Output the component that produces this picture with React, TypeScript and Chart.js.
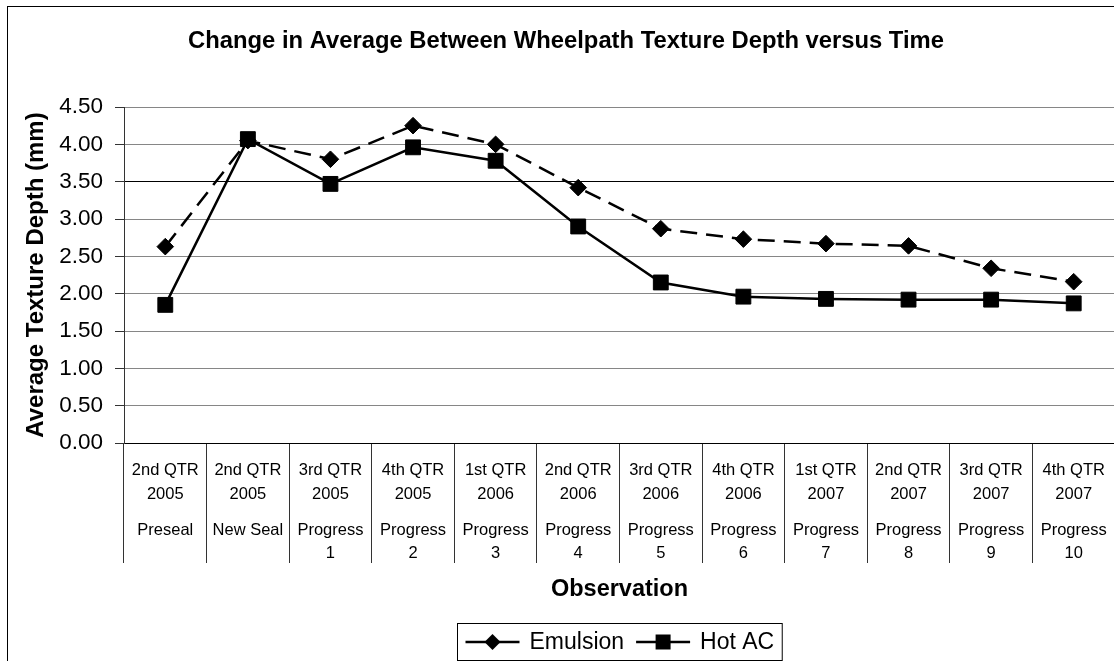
import React, { useEffect, useRef } from 'react';
import { Chart, registerables } from 'chart.js';

Chart.register(...registerables);

const FONT = '"Liberation Sans", Arial, sans-serif';

// ---- Data ----
const quarterLabels = ['2nd QTR', '2nd QTR', '3rd QTR', '4th QTR', '1st QTR', '2nd QTR', '3rd QTR', '4th QTR', '1st QTR', '2nd QTR', '3rd QTR', '4th QTR'];
const yearLabels = ['2005', '2005', '2005', '2005', '2006', '2006', '2006', '2006', '2007', '2007', '2007', '2007'];
const stageLabels = ['Preseal', 'New Seal', 'Progress', 'Progress', 'Progress', 'Progress', 'Progress', 'Progress', 'Progress', 'Progress', 'Progress', 'Progress'];
const stageNumbers = ['', '', '1', '2', '3', '4', '5', '6', '7', '8', '9', '10'];

const emulsionValues = [2.63, 4.05, 3.80, 4.25, 4.00, 3.42, 2.87, 2.73, 2.67, 2.64, 2.34, 2.16];
const hotACValues = [1.85, 4.07, 3.47, 3.96, 3.78, 2.90, 2.15, 1.96, 1.93, 1.92, 1.92, 1.87];

const yMin = 0;
const yMax = 4.5;
const yStep = 0.5;

const chartTitle = 'Change in Average Between Wheelpath Texture Depth versus Time';
const yAxisTitle = 'Average Texture Depth (mm)';
const xAxisTitle = 'Observation';

const CANVAS_W = 1132;
const CANVAS_H = 661;

const backgroundPlugin = {
  id: 'bgBorder',
  beforeDraw(chart: any) {
    const ctx = chart.ctx;
    ctx.save();
    ctx.fillStyle = '#ffffff';
    ctx.fillRect(0, 0, chart.width, chart.height);
    ctx.strokeStyle = '#000000';
    ctx.lineWidth = 1;
    ctx.strokeRect(7.5, 6.5, 1118, 720);
    ctx.restore();
  },
};

const titlePlugin = {
  id: 'centeredTitle',
  afterDraw(chart: any) {
    const ctx = chart.ctx;
    ctx.save();
    ctx.font = `bold 23.8px ${FONT}`;
    ctx.fillStyle = '#000000';
    ctx.textAlign = 'center';
    ctx.textBaseline = 'middle';
    ctx.fillText(chartTitle, chart.width / 2, 41);
    ctx.restore();
  },
};

const categoryLabelPlugin = {
  id: 'categoryLabels',
  afterDraw(chart: any) {
    const xs = chart.scales.x;
    const ctx = chart.ctx;
    const rows = [quarterLabels, yearLabels, stageLabels, stageNumbers];
    const offsets = [27, 51, 87, 110];
    ctx.save();
    ctx.font = `16.5px ${FONT}`;
    ctx.fillStyle = '#000000';
    ctx.textAlign = 'center';
    ctx.textBaseline = 'middle';
    for (let i = 0; i < quarterLabels.length; i++) {
      const px = xs.getPixelForValue(i);
      rows.forEach((row, k) => {
        if (row[i]) ctx.fillText(row[i], px, xs.top + offsets[k]);
      });
    }
    ctx.restore();
  },
};

function drawMarker(ctx: CanvasRenderingContext2D, style: string, x: number, y: number) {
  ctx.beginPath();
  if (style === 'rectRot') {
    const r = 8;
    ctx.moveTo(x, y - r);
    ctx.lineTo(x + r, y);
    ctx.lineTo(x, y + r);
    ctx.lineTo(x - r, y);
    ctx.closePath();
  } else {
    const h = 7.5;
    ctx.rect(x - h, y - h, 2 * h, 2 * h);
  }
  ctx.fill();
}

const legendPlugin = {
  id: 'boxLegend',
  afterDraw(chart: any) {
    const ctx = chart.ctx;
    const area = chart.chartArea;
    const datasets = chart.data.datasets;
    ctx.save();
    ctx.font = `23px ${FONT}`;
    const lineLen = 54;
    const textGap = 10;
    const itemGap = 12;
    const pad = 8;
    const widths = datasets.map((d: any) => ctx.measureText(d.label).width);
    let total = pad * 2;
    widths.forEach((w: number, i: number) => {
      total += lineLen + textGap + w + (i < widths.length - 1 ? itemGap : 0);
    });
    const cx = (area.left + area.right) / 2;
    const left = Math.round(cx - total / 2) + 0.5;
    const top = 623.5;
    const height = 37;
    ctx.strokeStyle = '#000000';
    ctx.lineWidth = 1;
    ctx.strokeRect(left, top, total, height);
    const cy = top + height / 2;
    let x = left + pad;
    datasets.forEach((d: any, i: number) => {
      ctx.strokeStyle = '#000000';
      ctx.fillStyle = '#000000';
      ctx.lineWidth = 2.5;
      ctx.setLineDash([]);
      ctx.beginPath();
      ctx.moveTo(x, cy);
      ctx.lineTo(x + lineLen, cy);
      ctx.stroke();
      drawMarker(ctx, d.pointStyle, x + lineLen / 2, cy);
      x += lineLen + textGap;
      ctx.textAlign = 'left';
      ctx.textBaseline = 'middle';
      ctx.fillText(d.label, x, cy + 1);
      x += widths[i] + itemGap;
    });
    ctx.restore();
  },
};

export default function App() {
  const canvasRef = useRef<HTMLCanvasElement | null>(null);

  useEffect(() => {
    if (!canvasRef.current) return;
    Chart.defaults.font.family = FONT;
    const chart = new Chart(canvasRef.current, {
      type: 'line',
      data: {
        labels: quarterLabels.map((q, i) => `${q} ${yearLabels[i]}`),
        datasets: [
          {
            label: 'Emulsion',
            data: emulsionValues,
            borderColor: '#000000',
            backgroundColor: '#000000',
            borderWidth: 2.5,
            borderDash: [17, 9],
            pointStyle: 'rectRot',
            pointRadius: 8.3,
            pointBorderWidth: 1,
            pointBackgroundColor: '#000000',
            pointBorderColor: '#000000',
            tension: 0,
            fill: false,
            order: 1,
          },
          {
            label: 'Hot AC',
            data: hotACValues,
            borderColor: '#000000',
            backgroundColor: '#000000',
            borderWidth: 2.5,
            pointStyle: 'rect',
            pointRadius: 10.5,
            pointBorderWidth: 1,
            pointBackgroundColor: '#000000',
            pointBorderColor: '#000000',
            tension: 0,
            fill: false,
            order: 0,
          },
        ],
      },
      options: {
        animation: false,
        responsive: false,
        maintainAspectRatio: false,
        events: [],
        layout: { padding: { left: 0, top: 107, right: 17, bottom: 51 } },
        plugins: {
          legend: { display: false },
          tooltip: { enabled: false },
          title: { display: false },
        },
        scales: {
          x: {
            type: 'category',
            offset: true,
            afterFit(scale: any) {
              scale.height = 167;
            },
            grid: {
              display: true,
              offset: true,
              drawOnChartArea: false,
              drawTicks: true,
              tickLength: 120,
              tickColor: '#333333',
              lineWidth: 1,
            },
            border: { display: true, color: '#000000', width: 1 },
            ticks: { display: false },
            title: {
              display: true,
              text: xAxisTitle,
              color: '#000000',
              font: { family: FONT, size: 23.5, weight: 'bold', lineHeight: 1.2 },
              padding: { top: 12, bottom: 6 },
            },
          },
          y: {
            type: 'linear',
            min: yMin,
            max: yMax,
            afterFit(scale: any) {
              scale.width = 124;
            },
            ticks: {
              stepSize: yStep,
              color: '#000000',
              font: { family: FONT, size: 22.5 },
              padding: 12,
              callback: (v: any) => Number(v).toFixed(2),
            },
            grid: {
              color: (ctx: any) => (ctx.tick && Math.abs(ctx.tick.value - 3.5) < 1e-6 ? '#000000' : '#868686'),
              tickColor: '#333333',
              drawTicks: true,
              tickLength: 9,
              lineWidth: 1,
            },
            border: { display: true, color: '#333333', width: 1 },
            title: {
              display: true,
              text: yAxisTitle,
              color: '#000000',
              font: { family: FONT, size: 24, weight: 'bold', lineHeight: 1.2 },
              padding: { top: 22, bottom: 0 },
            },
          },
        },
      },
      plugins: [backgroundPlugin, titlePlugin, categoryLabelPlugin, legendPlugin],
    } as any);
    return () => chart.destroy();
  }, []);

  return (
    <div style={{ position: 'fixed', left: 0, top: 0, width: 1114, height: 661, overflow: 'hidden', background: '#fff' }}>
      <canvas ref={canvasRef} width={CANVAS_W} height={CANVAS_H} style={{ width: CANVAS_W, height: CANVAS_H, display: 'block' }} />
    </div>
  );
}
